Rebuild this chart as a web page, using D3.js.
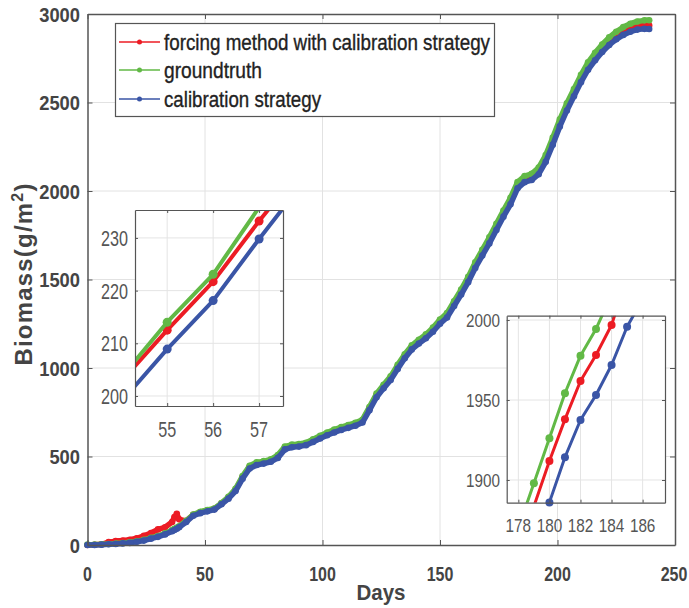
<!DOCTYPE html>
<html>
<head>
<meta charset="utf-8">
<script src="https://cdn.jsdelivr.net/npm/d3@7"></script>
<style>
  body { margin: 0; background: #fff; }
  svg { display: block; }
</style>
</head>
<body>
<script>
// ---- data ----
var days = [0,3,6,9,12,15,18,21,24,27,30,33,36,37,38,39,42,45,48,51,54,57,60,63,66,69,72,75,78,81,84,87,90,93,96,99,102,105,108,111,114,117,120,123,126,129,132,135,138,141,144,147,150,153,156,159,162,165,168,171,174,177,180,183,186,189,192,195,198,201,204,207,210,213,216,219,222,225,228,231,234,237,239];

var forcing = [0,1,4,16,22,25,30,38,52,68,88,100,130,158,176,145,136,170,185,195,204,234,268,312,384,442,461,468,478,502,550,561,565,572,591,611,630,646,660,672,684,702,773,847,897,945,1009,1069,1119,1151,1181,1219,1265,1300,1366,1432,1503,1584,1655,1724,1800,1876,1947,2036,2070,2083,2117,2188,2286,2389,2479,2559,2639,2709,2763,2810,2849,2880,2905,2922,2932,2936,2935];

var groundtruth = [2,2,4,6,8,11,15,21,29,40,51,66,84,91,98,106,137,172,188,198,206,237,272,317,390,448,467,474,484,508,556,567,571,578,597,617,636,652,666,678,690,708,780,855,905,953,1018,1078,1128,1160,1190,1228,1274,1310,1377,1443,1515,1597,1668,1738,1815,1890,1962,2050,2084,2097,2132,2203,2302,2405,2496,2576,2656,2727,2781,2828,2868,2900,2926,2945,2958,2964,2965];

var calibration = [0,0,2,4,6,9,12,18,25,36,46,60,78,85,92,100,130,165,180,190,200,230,262,305,375,432,452,460,470,492,540,552,556,564,582,602,620,636,650,662,674,692,762,835,885,932,995,1055,1105,1138,1168,1205,1250,1285,1350,1415,1485,1565,1635,1704,1780,1855,1925,2015,2050,2062,2095,2165,2262,2365,2455,2535,2615,2685,2738,2785,2825,2857,2882,2900,2912,2916,2915];

// left inset (days 54-58)
var insetADays = [54,55,56,57,58];
var insetAForcing = [202.8,212.5,221.7,233.2,244];
var insetATruth = [203.5,214,223.1,235.8,246];
var insetACalib = [198.9,208.9,218.1,229.8,241];

// right inset (days 178-186)
var insetBDays = [178,179,180,181,182,183,184,185,186];
var insetBForcing = [1856,1883.5,1911.9,1937.9,1961.9,1978.1,1996.9,2027,2045];
var insetBTruth = [1870,1897.9,1926.1,1954.2,1977.7,1994.4,2016,2035,2050];
var insetBCalib = [1832,1860,1886,1914.2,1937.5,1953.1,1971.9,1995.8,2013];

var xTicks = [0,50,100,150,200,250];
var yTicks = [0,500,1000,1500,2000,2500,3000];

var legendLabels = ["forcing method with calibration strategy", "groundtruth", "calibration strategy"];
var colors = ["#ec1c24", "#62b946", "#3a55a6"];

var FONT = "'Liberation Sans', Arial, sans-serif";

var svg = d3.select('body').append('svg')
        .attr('width', 689)
        .attr('height', 608);

svg.append('rect').attr('width', 689).attr('height', 608).attr('fill', '#fff');

function series(dx, vals) {
    return dx.map(function(d, i) { return {day: d, value: vals[i]}; });
}

// squeeze text horizontally to mimic the narrow font of the figure
function narrow(sel, perChar) {
    sel.attr('textLength', function(d) { return String(d).length * perChar; })
       .attr('lengthAdjust', 'spacingAndGlyphs');
}

// white plot area + grid
function drawFrame(g, x, y, xt, yt, gridColor) {
    var x0 = x.range()[0], x1 = x.range()[1];
    var y0 = y.range()[0], y1 = y.range()[1];

    g.append('rect')
        .attr('x', x0).attr('y', y1)
        .attr('width', x1 - x0).attr('height', y0 - y1)
        .attr('fill', '#fff');

    g.append('g').selectAll('line')
        .data(xt.filter(function(t) { return x(t) > x0 + 1 && x(t) < x1 - 1; }))
        .enter().append('line')
        .attr('x1', function(d) { return x(d); }).attr('x2', function(d) { return x(d); })
        .attr('y1', y0).attr('y2', y1)
        .attr('stroke', gridColor).attr('stroke-width', 1);

    g.append('g').selectAll('line')
        .data(yt.filter(function(t) { return y(t) < y0 - 1 && y(t) > y1 + 1; }))
        .enter().append('line')
        .attr('x1', x0).attr('x2', x1)
        .attr('y1', function(d) { return y(d); }).attr('y2', function(d) { return y(d); })
        .attr('stroke', gridColor).attr('stroke-width', 1);
}

// box with inward ticks on all four sides
function drawBorder(g, x, y, xt, yt, tick, strokeW) {
    var x0 = x.range()[0], x1 = x.range()[1];
    var y0 = y.range()[0], y1 = y.range()[1];
    var sides = [
        {axis: d3.axisBottom(x).tickValues(xt), tr: 'translate(0,' + y0 + ')'},
        {axis: d3.axisTop(x).tickValues(xt), tr: 'translate(0,' + y1 + ')'},
        {axis: d3.axisLeft(y).tickValues(yt), tr: 'translate(' + x0 + ',0)'},
        {axis: d3.axisRight(y).tickValues(yt), tr: 'translate(' + x1 + ',0)'}
    ];
    sides.forEach(function(s) {
        var a = g.append('g')
            .attr('transform', s.tr)
            .call(s.axis.tickSizeInner(-tick).tickSizeOuter(0).tickFormat(''));
        a.select('.domain').attr('stroke', '#555').attr('stroke-width', strokeW);
        a.selectAll('.tick line').attr('stroke', '#555').attr('stroke-width', 1);
    });
}

function drawSeries(g, x, y, sets, lw, r, clip, markerFilter) {
    var line = d3.line()
        .x(function(d) { return x(d.day); })
        .y(function(d) { return y(d.value); });
    sets.forEach(function(s, i) {
        var p = g.append('path')
            .datum(s)
            .attr('fill', 'none')
            .attr('stroke', colors[i])
            .attr('stroke-width', lw)
            .attr('stroke-linejoin', 'round')
            .attr('stroke-linecap', 'round')
            .attr('d', line);
        if (clip) p.attr('clip-path', clip);
        g.append('g').selectAll('circle')
            .data(s.filter(markerFilter))
            .enter().append('circle')
            .attr('cx', function(d) { return x(d.day); })
            .attr('cy', function(d) { return y(d.value); })
            .attr('r', r)
            .attr('fill', colors[i]);
    });
}

// ---------------- main chart ----------------
var x = d3.scaleLinear().domain([0, 250]).range([87.5, 675]);
var y = d3.scaleLinear().domain([0, 3000]).range([545, 14]);

var main = svg.append('g');
drawFrame(main, x, y, xTicks, yTicks, '#e2e2e2');

var mainSets = [series(days, forcing), series(days, groundtruth), series(days, calibration)];
drawSeries(main, x, y, mainSets, 5.5, 3.3, null, function() { return true; });

drawBorder(main, x, y, xTicks, yTicks, 5, 1.5);

// x labels squeezed with a transform (the last one sits at the picture's edge)
main.append('g').selectAll('text')
    .data(xTicks).enter().append('text')
    .attr('transform', function(d) {
        var cx = d === 250 ? 674 : x(d);
        return 'translate(' + cx + ',581) scale(0.8,1)';
    })
    .attr('text-anchor', 'middle')
    .attr('font-family', FONT).attr('font-weight', 'bold').attr('font-size', 20)
    .attr('fill', '#444')
    .text(function(d) { return d; });

main.append('g').selectAll('text')
    .data(yTicks).enter().append('text')
    .attr('x', 80)
    .attr('y', function(d) { return y(d); })
    .attr('dy', '0.36em')
    .attr('text-anchor', 'end')
    .attr('font-family', FONT).attr('font-weight', 'bold').attr('font-size', 21)
    .attr('fill', '#444')
    .text(function(d) { return d; })
    .call(narrow, 10.2);

svg.append('text')
    .attr('x', 381).attr('y', 600)
    .attr('text-anchor', 'middle')
    .attr('font-family', FONT).attr('font-weight', 'bold').attr('font-size', 22)
    .attr('fill', '#444')
    .attr('textLength', 49).attr('lengthAdjust', 'spacingAndGlyphs')
    .text('Days');

var ylab = svg.append('text')
    .attr('transform', 'translate(32,274) rotate(-90)')
    .attr('text-anchor', 'middle')
    .attr('font-family', FONT).attr('font-weight', 'bold').attr('font-size', 24)
    .attr('letter-spacing', 1.2)
    .attr('fill', '#444');
ylab.append('tspan').text('Biomass(g/m');
ylab.append('tspan').attr('dy', -9).attr('font-size', 16).text('2');
ylab.append('tspan').attr('dy', 9).text(')');

// ---------------- legend ----------------
var legend = svg.append('g');
legend.append('rect')
    .attr('x', 115.5).attr('y', 23.5).attr('width', 379).attr('height', 93)
    .attr('fill', '#fff').attr('stroke', '#555').attr('stroke-width', 1.2);
var legendY = [42, 70, 99];
var legendLen = [326, 98, 157];
legendLabels.forEach(function(lbl, i) {
    legend.append('line')
        .attr('x1', 119).attr('x2', 160)
        .attr('y1', legendY[i]).attr('y2', legendY[i])
        .attr('stroke', colors[i]).attr('stroke-width', 1.5);
    legend.append('circle')
        .attr('cx', 139.5).attr('cy', legendY[i]).attr('r', 2.5)
        .attr('fill', colors[i]);
    legend.append('text')
        .attr('x', 164).attr('y', legendY[i] + 7.5)
        .attr('font-family', FONT).attr('font-size', 22)
        .attr('fill', '#222')
        .attr('stroke', '#222').attr('stroke-width', 0.35)
        .attr('textLength', legendLen[i])
        .attr('lengthAdjust', 'spacingAndGlyphs')
        .text(lbl);
});

// ---------------- insets ----------------
function drawInset(id, xDom, yDom, xr, yr, xt, yt, sets, fontSize, perChar, xLabY, yLabX, lw, r) {
    var ix = d3.scaleLinear().domain(xDom).range(xr);
    var iy = d3.scaleLinear().domain(yDom).range(yr);
    var g = svg.append('g');
    svg.append('clipPath').attr('id', id)
        .append('rect')
        .attr('x', xr[0]).attr('y', yr[1])
        .attr('width', xr[1] - xr[0]).attr('height', yr[0] - yr[1]);
    drawFrame(g, ix, iy, xt, yt, '#e4e4e4');
    drawSeries(g, ix, iy, sets, lw, r, 'url(#' + id + ')', function(d) {
        return d.day >= xDom[0] && d.day <= xDom[1] && d.value >= yDom[0] && d.value <= yDom[1];
    });
    drawBorder(g, ix, iy, xt, yt, 3, 1.2);

    g.append('g').selectAll('text')
        .data(xt).enter().append('text')
        .attr('x', function(d) { return ix(d); })
        .attr('y', xLabY)
        .attr('text-anchor', 'middle')
        .attr('font-family', FONT).attr('font-size', fontSize)
        .attr('fill', '#555')
        .text(function(d) { return d; })
        .call(narrow, perChar);
    g.append('g').selectAll('text')
        .data(yt).enter().append('text')
        .attr('x', yLabX)
        .attr('y', function(d) { return iy(d); })
        .attr('dy', '0.36em')
        .attr('text-anchor', 'end')
        .attr('font-family', FONT).attr('font-size', fontSize)
        .attr('fill', '#555')
        .text(function(d) { return d; })
        .call(narrow, perChar);
}

drawInset('clipA', [54.3, 57.52], [198.1, 235.3], [135, 283], [406, 210],
    [55, 56, 57], [200, 210, 220, 230],
    [series(insetADays, insetAForcing), series(insetADays, insetATruth), series(insetADays, insetACalib)],
    22, 9, 437, 128, 4, 4.5);

drawInset('clipB', [177.25, 187.44], [1885.8, 2002.7], [506.7, 665], [502.7, 315.7],
    [178, 180, 182, 184, 186], [1900, 1950, 2000],
    [series(insetBDays, insetBForcing), series(insetBDays, insetBTruth), series(insetBDays, insetBCalib)],
    19, 8.5, 532, 500, 3, 4);
</script>
</body>
</html>
